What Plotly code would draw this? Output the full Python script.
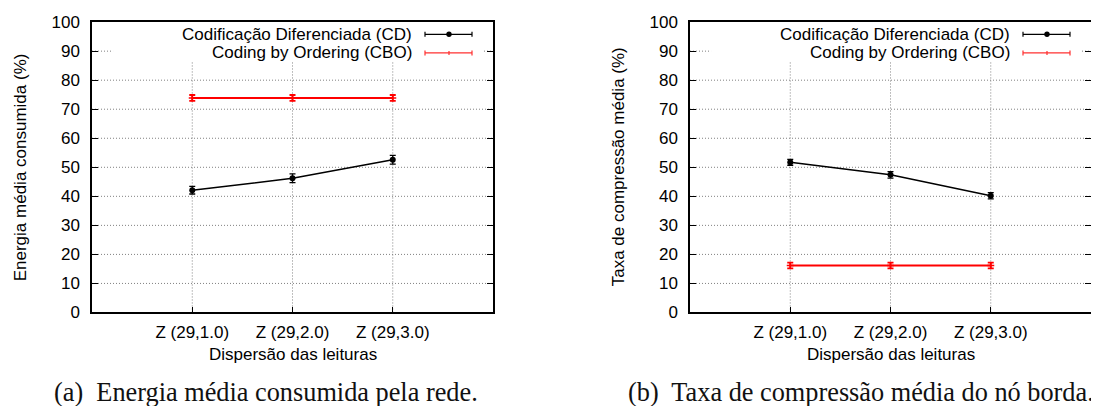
import plotly.graph_objects as go

categories = ["Z (29,1.0)", "Z (29,2.0)", "Z (29,3.0)"]
xpos = [1, 2, 3]

# Panel (a): Energia média consumida (%)
energy_cd = [42.1, 46.2, 52.6]
energy_cd_err = [1.3, 1.5, 1.5]
energy_cbo = [73.9, 73.9, 73.9]
energy_cbo_err = [1.0, 1.0, 1.0]

# Panel (b): Taxa de compressão média (%)
comp_cd = [51.7, 47.4, 40.2]
comp_cd_err = [1.0, 1.1, 1.1]
comp_cbo = [16.2, 16.2, 16.2]
comp_cbo_err = [1.0, 1.0, 1.0]

series_names = ["Codificação Diferenciada (CD)", "Coding by Ordering (CBO)"]
y_titles = ["Energia média consumida (%)", "Taxa de compressão média (%)"]
x_title = "Dispersão das leituras"
captions = ["(a)\u00a0 Energia média consumida pela rede.", "(b)\u00a0 Taxa de compressão média do nó borda."]
yticks = [0, 10, 20, 30, 40, 50, 60, 70, 80, 90, 100]

W, H = 1099, 406
FONT = "Liberation Sans, Arial, sans-serif"
SERIF = "Liberation Serif, Times New Roman, serif"
FS = 17


# convert target picture pixels to paper fractions (page offset/scale measured)
def PX(x):
    return (x - 7) / W


def PY(y):
    return 1 - ((y - 15.9) / 0.952) / H


fig = go.Figure()

panels = [
    dict(cd=energy_cd, cde=energy_cd_err, cbo=energy_cbo, cboe=energy_cbo_err, x0=91, x1=492, xa="x", ya="y"),
    dict(cd=comp_cd, cde=comp_cd_err, cbo=comp_cbo, cboe=comp_cbo_err, x0=689, x1=1090, xa="x2", ya="y2"),
]
ytop, ybot = 21, 311

for i, p in enumerate(panels):
    fig.add_trace(go.Scatter(
        x=xpos, y=p["cbo"], mode="lines+markers", name=series_names[1],
        line=dict(color="#ff0000", width=2),
        marker=dict(symbol="cross-thin", size=5, color="#ff0000", line=dict(color="#ff0000", width=1.5)),
        error_y=dict(type="data", array=p["cboe"], visible=True, color="#ff0000", thickness=1.8, width=3),
        xaxis=p["xa"], yaxis=p["ya"], showlegend=False))
    fig.add_trace(go.Scatter(
        x=xpos, y=p["cd"], mode="lines+markers", name=series_names[0],
        line=dict(color="#000000", width=1.5),
        marker=dict(symbol="circle", size=6, color="#000000"),
        error_y=dict(type="data", array=p["cde"], visible=True, color="#000000", thickness=1.3, width=3),
        xaxis=p["xa"], yaxis=p["ya"], showlegend=False))

axis_common = dict(showline=True, linecolor="black", linewidth=1.5, zeroline=False, showgrid=False,
                   tickfont=dict(family=FONT, size=FS, color="black"), ticks="inside",
                   ticklen=6, tickcolor="black", ticklabeloverflow="allow")

layout = dict(width=W, height=H, margin=dict(l=0, r=0, t=0, b=0),
              paper_bgcolor="white", plot_bgcolor="white", showlegend=False)

for i, p in enumerate(panels):
    xn = "xaxis" if i == 0 else "xaxis2"
    yn = "yaxis" if i == 0 else "yaxis2"
    layout[xn] = dict(axis_common, domain=[PX(p["x0"]), PX(p["x1"])], range=[0, 4],
                      tickvals=xpos, ticktext=categories, mirror=True,
                      anchor=p["ya"], ticklabelstandoff=3)
    layout[yn] = dict(axis_common, domain=[PY(ybot), PY(ytop)], range=[0, 100],
                      tickvals=yticks, mirror="ticks", anchor=p["xa"], ticklabelstandoff=7)
fig.update_layout(**layout)

GRID = dict(color="#808080", width=1, dash="1px,2px")
shapes = []
annotations = []
for i, p in enumerate(panels):
    xr = p["xa"]
    yr = p["ya"]
    for xv in xpos:
        shapes.append(dict(type="line", xref=xr, yref=yr, x0=xv, x1=xv, y0=0, y1=86.2,
                           line=GRID, layer="below"))
    for yv in yticks[1:-1]:
        if yv == 90:
            shapes.append(dict(type="line", xref=xr, yref=yr, x0=0, x1=0.21, y0=yv, y1=yv,
                               line=GRID, layer="below"))
            shapes.append(dict(type="line", xref=xr, yref=yr, x0=3.91, x1=4, y0=yv, y1=yv,
                               line=GRID, layer="below"))
        else:
            shapes.append(dict(type="line", xref=xr, yref=yr, x0=0, x1=4, y0=yv, y1=yv,
                               line=GRID, layer="below"))
    ox = p["x0"]
    for k, (yc, col, lw) in enumerate([(33.2, "#000000", 1.2), (51.8, "#ff3030", 1.2)]):
        annotations.append(dict(text=series_names[k], xref="paper", yref="paper",
                                x=PX(ox + 322), y=PY(yc), xanchor="right", yanchor="middle",
                                showarrow=False, font=dict(family=FONT, size=FS, color="black")))
        kx0, kx1 = ox + 333, ox + 380
        shapes.append(dict(type="line", xref="paper", yref="paper", x0=PX(kx0), x1=PX(kx1),
                           y0=PY(yc), y1=PY(yc), line=dict(color=col, width=lw)))
        for kx in (kx0, kx1):
            shapes.append(dict(type="line", xref="paper", yref="paper", x0=PX(kx), x1=PX(kx),
                               y0=PY(yc - 2.5), y1=PY(yc + 2.5), line=dict(color=col, width=lw)))
        mx = ox + 357
        if k == 0:
            shapes.append(dict(type="circle", xref="paper", yref="paper",
                               x0=PX(mx - 2.7), x1=PX(mx + 2.7),
                               y0=PY(yc - 2.7), y1=PY(yc + 2.7),
                               fillcolor=col, line=dict(color=col, width=0)))
        else:
            shapes.append(dict(type="line", xref="paper", yref="paper", x0=PX(mx), x1=PX(mx),
                               y0=PY(yc - 2), y1=PY(yc + 2), line=dict(color=col, width=1.2)))
    annotations.append(dict(text=x_title, xref="paper", yref="paper",
                            x=PX((p["x0"] + p["x1"]) / 2), y=PY(352.5),
                            xanchor="center", yanchor="middle", showarrow=False,
                            font=dict(family=FONT, size=FS, color="black")))
    annotations.append(dict(text=y_titles[i], xref="paper", yref="paper",
                            x=PX(p["x0"] - 72), y=PY((ytop + ybot) / 2), textangle=-90,
                            xanchor="center", yanchor="middle", showarrow=False,
                            font=dict(family=FONT, size=FS, color="black")))
    cx = 265 if i == 0 else 860
    annotations.append(dict(text=captions[i], xref="paper", yref="paper",
                            x=PX(cx), y=PY(391), xanchor="center", yanchor="middle",
                            showarrow=False, font=dict(family=SERIF, size=26.3, color="#111111")))

fig.update_layout(shapes=shapes, annotations=annotations)
fig.write_html("out.html")
